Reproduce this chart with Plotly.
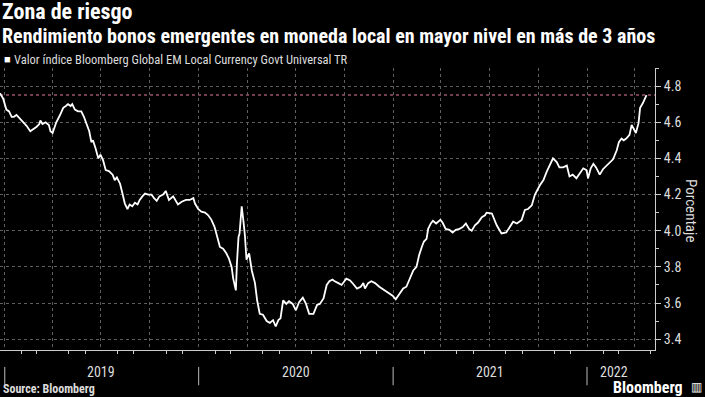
import plotly.graph_objects as go

dates = [
"2018-12-23","2018-12-29","2019-01-04","2019-01-09","2019-01-14","2019-01-18","2019-01-23","2019-01-29",
"2019-02-04","2019-02-11","2019-02-18","2019-02-23","2019-03-02","2019-03-07","2019-03-09","2019-03-13",
"2019-03-19","2019-03-25","2019-03-28","2019-04-01","2019-04-03","2019-04-08","2019-04-15","2019-04-21",
"2019-04-26","2019-04-30","2019-05-05","2019-05-08","2019-05-13","2019-05-19","2019-05-25","2019-05-30",
"2019-06-04","2019-06-09","2019-06-13","2019-06-16","2019-06-21","2019-06-26","2019-06-30","2019-07-05",
"2019-07-10","2019-07-16","2019-07-23","2019-07-27","2019-07-31","2019-08-06","2019-08-11","2019-08-15",
"2019-08-20","2019-08-24","2019-08-29","2019-09-03","2019-09-08","2019-09-12","2019-09-17","2019-09-22",
"2019-09-28","2019-10-04","2019-10-09","2019-10-14","2019-10-19","2019-10-26","2019-10-31","2019-11-06",
"2019-11-14","2019-11-23","2019-11-30","2019-12-08","2019-12-15","2019-12-22","2019-12-25","2019-12-31",
"2020-01-06","2020-01-13","2020-01-19","2020-01-25","2020-01-31","2020-02-05","2020-02-10","2020-02-16",
"2020-02-22","2020-02-27","2020-03-03","2020-03-06","2020-03-11","2020-03-13","2020-03-16","2020-03-18",
"2020-03-22","2020-03-25","2020-03-28","2020-03-31","2020-04-05","2020-04-10","2020-04-16","2020-04-20",
"2020-04-25","2020-05-01","2020-05-08","2020-05-14","2020-05-20","2020-05-25","2020-05-30","2020-06-03",
"2020-06-08","2020-06-14","2020-06-19","2020-06-26","2020-07-02","2020-07-08","2020-07-15","2020-07-21",
"2020-07-27","2020-08-04","2020-08-11","2020-08-16","2020-08-23","2020-08-29","2020-09-03","2020-09-09",
"2020-09-13","2020-09-20","2020-09-26","2020-10-05","2020-10-12","2020-10-18","2020-10-25","2020-11-01",
"2020-11-06","2020-11-09","2020-11-15","2020-11-21","2020-11-28","2020-12-06","2020-12-13","2020-12-23",
"2020-12-31","2021-01-06","2021-01-14","2021-01-20","2021-01-26","2021-02-02","2021-02-08","2021-02-14",
"2021-02-19","2021-02-24","2021-02-28","2021-03-05","2021-03-08","2021-03-13","2021-03-17","2021-03-23",
"2021-03-27","2021-03-31","2021-04-04","2021-04-10","2021-04-17","2021-04-23","2021-04-29","2021-05-06",
"2021-05-12","2021-05-18","2021-05-24","2021-05-29","2021-06-04","2021-06-10","2021-06-17","2021-06-23",
"2021-06-26","2021-07-06","2021-07-15","2021-07-24","2021-08-02","2021-08-09","2021-08-15","2021-08-22",
"2021-08-31","2021-09-06","2021-09-12","2021-09-19","2021-09-25","2021-10-04","2021-10-11","2021-10-17",
"2021-10-23","2021-10-29","2021-11-05","2021-11-10","2021-11-17","2021-11-24","2021-11-29","2021-12-05",
"2021-12-12","2021-12-19","2021-12-25","2021-12-31","2022-01-03","2022-01-08","2022-01-13","2022-01-18",
"2022-01-25","2022-01-31","2022-02-07","2022-02-13","2022-02-19","2022-02-26","2022-03-02","2022-03-07",
"2022-03-11","2022-03-16","2022-03-22","2022-03-26","2022-03-30","2022-04-03","2022-04-08","2022-04-11",
"2022-04-16","2022-04-20","2022-04-23"]

values = [
4.76,4.73,4.67,4.66,4.63,4.63,4.64,4.62,
4.60,4.58,4.55,4.56,4.575,4.59,4.61,4.59,
4.60,4.585,4.55,4.54,4.56,4.60,4.64,4.68,
4.69,4.70,4.69,4.70,4.67,4.66,4.66,4.63,
4.59,4.55,4.49,4.50,4.455,4.40,4.42,4.39,
4.335,4.33,4.31,4.28,4.295,4.26,4.20,4.15,
4.12,4.145,4.135,4.155,4.145,4.17,4.19,4.205,
4.20,4.20,4.18,4.165,4.19,4.20,4.22,4.17,
4.19,4.145,4.16,4.17,4.17,4.18,4.15,4.12,
4.105,4.10,4.085,4.06,4.02,3.96,3.91,3.90,
3.875,3.845,3.80,3.735,3.67,3.82,3.965,3.985,
4.135,4.06,3.975,3.84,3.875,3.78,3.71,3.615,
3.54,3.535,3.50,3.49,3.505,3.47,3.505,3.515,
3.615,3.595,3.61,3.595,3.56,3.605,3.63,3.595,
3.54,3.54,3.59,3.595,3.625,3.70,3.72,3.73,
3.72,3.71,3.70,3.735,3.725,3.705,3.68,3.69,
3.71,3.68,3.71,3.72,3.71,3.69,3.675,3.655,
3.64,3.62,3.655,3.68,3.69,3.735,3.78,3.80,
3.865,3.91,3.94,3.955,4.01,4.04,4.055,4.04,
4.05,4.06,4.045,4.01,4.005,3.99,4.005,4.01,
4.02,4.04,4.01,4.00,4.03,4.045,4.075,4.085,
4.10,4.095,4.03,3.985,3.99,4.02,4.05,4.04,
4.06,4.115,4.12,4.14,4.20,4.25,4.28,4.325,
4.36,4.40,4.38,4.35,4.35,4.36,4.30,4.31,
4.29,4.32,4.345,4.335,4.29,4.345,4.37,4.35,
4.31,4.34,4.36,4.38,4.395,4.445,4.49,4.51,
4.50,4.51,4.53,4.585,4.565,4.54,4.595,4.68,
4.705,4.73,4.75]

latest_level = 4.75
y_ticks = [3.4, 3.6, 3.8, 4.0, 4.2, 4.4, 4.6, 4.8]
y_tick_labels = ["3.4", "3.6", "3.8", "4.0", "4.2", "4.4", "4.6", "4.8"]
years = ["2019", "2020", "2021", "2022"]
year_starts = ["2019-01-01", "2020-01-01", "2021-01-01", "2022-01-01"]
year_label_pos = ["2019-07-02", "2020-07-02", "2021-07-02", "2022-02-20"]

FONT = "Liberation Sans Narrow, Roboto Condensed, Arial Narrow, sans-serif"
GRID = "#5f5f5f"

fig = go.Figure()
fig.add_trace(go.Scatter(x=dates, y=values, mode="lines",
                         line=dict(color="white", width=1.8), hoverinfo="skip",
                         showlegend=False))

# latest level reference line
fig.add_shape(type="line", xref="paper", yref="y", x0=0, x1=1,
              y0=latest_level, y1=latest_level,
              line=dict(color="#9a5466", width=1.5, dash="dot"), layer="below")

# year separators
for ys in year_starts:
    fig.add_shape(type="line", xref="x", yref="paper", x0=ys, x1=ys,
                  y0=-0.06, y1=-0.125, line=dict(color="#bbbbbb", width=1))

# convert page px to paper coords (plot area: x 0..655, y 68..350)
def paper_ann(px, py, text, size, color="white", xanchor="left", yanchor="middle", angle=0):
    return dict(x=px / 655, y=(350 - py) / 282, xref="paper", yref="paper",
                text=text, showarrow=False, xanchor=xanchor, yanchor=yanchor,
                textangle=angle, borderpad=0,
                font=dict(family=FONT, size=size, color=color))

anns = []
for yl, pos in zip(years, year_label_pos):
    anns.append(dict(x=pos, y=(350 - 372) / 282, xref="x", yref="paper", text=yl,
                     showarrow=False, xanchor="center", yanchor="middle",
                     font=dict(family=FONT, size=14, color="#dddddd")))

anns += [
    paper_ann(1, 12, "<b>Zona de riesgo</b>", 22),
    paper_ann(1, 36, "<b>Rendimiento bonos emergentes en moneda local en mayor nivel en más de 3 años</b>", 20),
    paper_ann(3, 60, "■", 11),
    paper_ann(13, 60, "Valor índice Bloomberg Global EM Local Currency Govt Universal TR", 12.5, color="#dddddd"),
    paper_ann(691, 210, "Porcentaje", 15, color="#dddddd", xanchor="center", angle=90),
    paper_ann(2, 389, "<b>Source: Bloomberg</b>", 12, color="#dddddd"),
    paper_ann(684, 387, "<b>Bloomberg</b>", 16, xanchor="right"),
    paper_ann(696, 387, "▥", 12, xanchor="center"),
]

fig.update_layout(
    width=705, height=397,
    paper_bgcolor="black", plot_bgcolor="black",
    margin=dict(l=0, r=50, t=68, b=47),
    xaxis=dict(type="date", range=["2018-12-23", "2022-05-09"],
               tick0="2019-01-01", dtick="M3", showticklabels=False,
               showgrid=True, gridcolor=GRID, griddash="dot", gridwidth=1,
               ticks="", showline=True, linecolor="#cccccc", linewidth=1,
               zeroline=False,
               minor=dict(dtick="M1", tick0="2019-01-01", ticks="outside",
                          ticklen=3, tickcolor="#cccccc", showgrid=False)),
    yaxis=dict(side="right", range=[3.34, 4.9], tickvals=y_ticks,
               ticktext=y_tick_labels, showgrid=True, gridcolor=GRID,
               griddash="dot", gridwidth=1, ticks="outside", ticklen=5,
               tickcolor="#cccccc", showline=True, linecolor="#cccccc",
               linewidth=1, zeroline=False,
               tickfont=dict(family=FONT, size=14, color="#dddddd"),
               minor=dict(dtick=0.1, tick0=3.4, ticks="outside", ticklen=3,
                          tickcolor="#cccccc", showgrid=False)),
    showlegend=False,
    annotations=anns,
)

fig.write_html("out.html", config={"displayModeBar": False},
               post_script="document.body.style.margin='0px';document.body.style.padding='0px';document.body.style.overflow='hidden';")
